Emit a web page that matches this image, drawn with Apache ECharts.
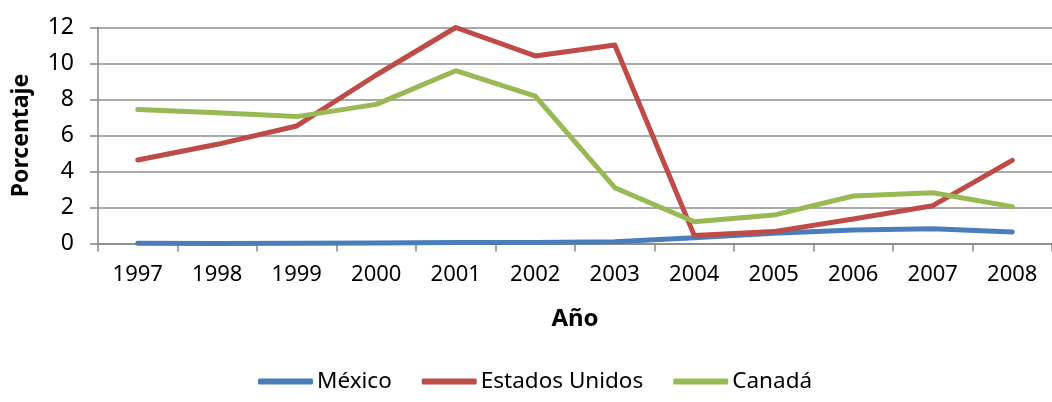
<!DOCTYPE html>
<html>
<head>
<meta charset="utf-8">
<script src="https://cdn.jsdelivr.net/npm/echarts@6/dist/echarts.min.js"></script>
<style>
  html, body { margin: 0; padding: 0; background: #fff; }
  #chart { width: 1052px; height: 402px; }
</style>
</head>
<body>
<div id="chart"></div>
<script>
// 数据
const years = ['1997', '1998', '1999', '2000', '2001', '2002', '2003', '2004', '2005', '2006', '2007', '2008']
const mexico = [0.02, 0.0, 0.02, 0.03, 0.05, 0.06, 0.1, 0.32, 0.57, 0.75, 0.82, 0.64]
const estadosUnidos = [4.64, 5.51, 6.53, 9.36, 12.0, 10.42, 11.03, 0.45, 0.66, 1.36, 2.1, 4.62]
const canada = [7.45, 7.27, 7.05, 7.73, 9.6, 8.19, 3.1, 1.21, 1.58, 2.64, 2.82, 2.05]
const yTicks = [0, 2, 4, 6, 8, 10, 12]

const font = '"Noto Sans", "Open Sans", sans-serif'

const chartInstance = echarts.init(document.getElementById('chart'))

const lineSeries = (name, data, color) => ({
  name: name,
  type: 'line',
  data: data,
  symbol: 'none',
  lineStyle: { width: 5, color: color, cap: 'round', join: 'round' },
  itemStyle: { color: color }
})

const option = {
  animation: false,
  grid: { left: 98, right: -8, top: 27.5, bottom: 158.5 },
  legend: {
    bottom: 4,
    left: 253,
    itemWidth: 55,
    itemHeight: 6,
    itemGap: 30,
    icon: 'roundRect',
    textStyle: { fontFamily: font, fontSize: 22.5, color: '#000', padding: [0, 0, 0, -1] },
    data: ['México', 'Estados Unidos', 'Canadá']
  },
  xAxis: {
    type: 'category',
    data: years,
    boundaryGap: true,
    name: 'Año',
    nameLocation: 'middle',
    nameGap: 64,
    nameTextStyle: { fontFamily: font, fontWeight: 'bold', fontSize: 24, color: '#000' },
    axisLine: { lineStyle: { color: '#868686', width: 1.5 } },
    axisTick: { show: true, inside: false, length: 8, lineStyle: { color: '#868686', width: 1.5 } },
    axisLabel: { fontFamily: font, fontSize: 22, color: '#000', margin: 20 }
  },
  yAxis: {
    type: 'value',
    min: yTicks[0],
    max: yTicks[yTicks.length - 1],
    interval: 2,
    name: 'Porcentaje',
    nameLocation: 'middle',
    nameGap: 65,
    nameRotate: 90,
    nameTextStyle: { fontFamily: font, fontWeight: 'bold', fontSize: 23, color: '#000' },
    axisLine: { show: true, lineStyle: { color: '#868686', width: 1.5 } },
    axisTick: { show: true, inside: false, length: 8, lineStyle: { color: '#868686', width: 1.5 } },
    axisLabel: { fontFamily: font, fontSize: 23, color: '#000', margin: 24 },
    splitLine: { lineStyle: { color: '#8c8c8c', width: 1.5 } }
  },
  series: [
    lineSeries('México', mexico, '#4a7ebb'),
    lineSeries('Estados Unidos', estadosUnidos, '#be4b48'),
    lineSeries('Canadá', canada, '#98b954')
  ]
}
chartInstance.setOption(option)
</script>
</body>
</html>
